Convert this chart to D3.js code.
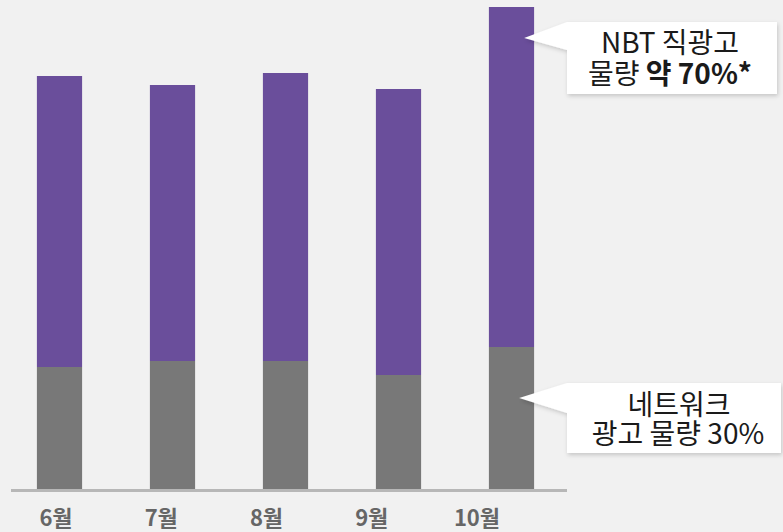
<!DOCTYPE html>
<html><head><meta charset="utf-8">
<script src="https://cdn.jsdelivr.net/npm/d3@7"></script>
<style>
html,body{margin:0;padding:0;background:#f1f1f1;}
svg{display:block;font-family:"Noto Sans CJK KR","Noto Sans",sans-serif;}
</style></head>
<body><svg id="c" width="783" height="532"></svg>
<script>
const months = ["6월","7월","8월","9월","10월"];
const network = [122, 128, 128, 114, 142];
const direct = [291, 276, 288, 286, 340];
const calloutTop = ["NBT 직광고", "물량 ", "약 70%*"];
const calloutBottom = ["네트워크", "광고 물량 30%"];

const svg = d3.select("#c");
const x = d3.scaleBand().domain(months).range([3, 568]).paddingInner(0.6).paddingOuter(0.3);
const xl = d3.scalePoint().domain(months).range([56, 477]);
const y = d3.scaleLinear().domain([0, 482]).range([489, 7]);

const data = months.map((m,i)=>({m, a:network[i], b:direct[i]}));
const stack = d3.stack().keys(["a","b"])(data);
const colors = {a:"#787878", b:"#6a4e9b"};

svg.selectAll("g.s").data(stack).join("g").attr("fill", d=>colors[d.key])
  .selectAll("rect").data(d=>d).join("rect")
  .attr("x", d=>x(d.data.m)).attr("width", x.bandwidth())
  .attr("y", d=>y(d[1])).attr("height", d=>y(d[0])-y(d[1]));

svg.append("line").attr("x1",11).attr("x2",567).attr("y1",490.5).attr("y2",490.5)
  .attr("stroke","#b7b7b7").attr("stroke-width",3);

svg.append("g").selectAll("text").data(months).join("text")
  .attr("x", d=>xl(d)).attr("y", 526).attr("text-anchor","middle")
  .attr("font-size", 22).attr("font-weight", 700).attr("fill","#666")
  .text(d=>d);

const defs = svg.append("defs");
const f = defs.append("filter").attr("id","sh").attr("x","-10%").attr("y","-20%").attr("width","130%").attr("height","150%");
f.append("feDropShadow").attr("dx",1).attr("dy",2).attr("stdDeviation",2).attr("flood-color","#000").attr("flood-opacity",0.18);

function callout(bx, by, bw, bh, tip, baseY1, baseY2){
  const p = `M${bx},${by} L${bx+bw},${by} L${bx+bw},${by+bh} L${bx},${by+bh} L${bx},${baseY2} L${tip[0]},${tip[1]} L${bx},${baseY1} Z`;
  svg.append("path").attr("d", p).attr("fill","#fff").attr("filter","url(#sh)");
}
const i10 = months.length-1;
const tip1 = [x(months[i10]) + x.bandwidth()*0.78, y(network[i10]+direct[i10]) + 31];
callout(567, 22, 210, 72, tip1, 22, 50);
const t1 = svg.append("g").attr("font-size",28).attr("fill","#1a1a1a").attr("text-anchor","middle");
t1.append("text").attr("x",670).attr("y",53).text(calloutTop[0]);
const l2 = t1.append("text").attr("x",670).attr("y",84);
l2.append("tspan").text(calloutTop[1]);
l2.append("tspan").attr("font-weight",700).text(calloutTop[2]);

const tip2 = [x(months[i10]) + x.bandwidth()*0.67, y(network[i10]) + 51];
callout(567, 383, 214, 70, tip2, 383, 413);
const t2 = svg.append("g").attr("font-size",28).attr("fill","#1a1a1a").attr("text-anchor","middle");
t2.append("text").attr("x",679).attr("y",415).text(calloutBottom[0]);
t2.append("text").attr("x",678).attr("y",444).text(calloutBottom[1]);
</script></body></html>
